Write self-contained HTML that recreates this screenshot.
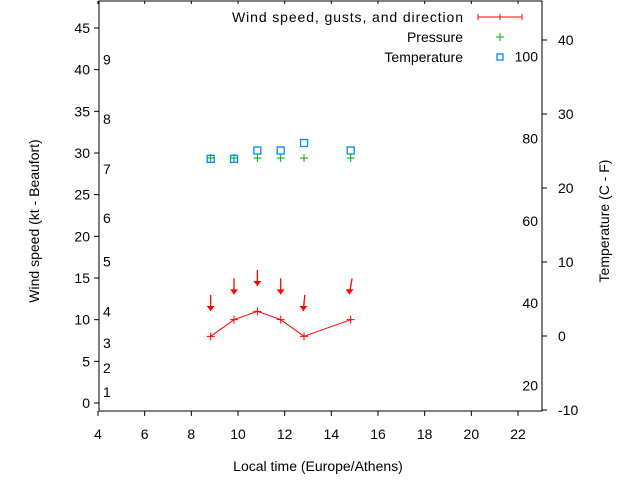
<!DOCTYPE html>
<html><head><meta charset="utf-8"><style>
body{margin:0;background:#fff}
svg text{font-family:"Liberation Sans",sans-serif;font-size:14px;fill:#000}
</style></head><body>
<svg id="c" width="640" height="480" viewBox="0 0 640 480" xmlns="http://www.w3.org/2000/svg">
<g id="g"></g>
</svg>
<script>
const times=[8.83,9.83,10.83,11.83,12.83,14.83];
const windSpeed=[8,10,11,10,8,10];
const gusts=[12,14,15,14,12,14];
const windDir=[0,0,0,0,355,350];
const pressure=[29.4,29.4,29.4,29.4,29.4,29.4];
const temperature=[29.3,29.3,30.3,30.3,31.2,30.3];
const leftTicks=[0,5,10,15,20,25,30,35,40,45];
const rightTicks=[-10,0,10,20,30,40];
const xTicks=[4,6,8,10,12,14,16,18,20,22];
const beaufort=[[1,1.3],[2,4.2],[3,7.2],[4,11],[5,17],[6,22.2],[7,28.1],[8,34.1],[9,41.2]];
const fahrTicks=[20,40,60,80,100];

const L=99,R=542,T=1,B=411;
const X=v=>98+(v-4)*23.333;
const Y=v=>403-v*8.333;
const Y2=v=>336-v*7.4;
const NS='http://www.w3.org/2000/svg';
const g=document.getElementById('g');
function el(t,a,name,txt){const e=document.createElementNS(NS,t);for(const k in a)e.setAttribute(k,a[k]);


if(txt!==undefined)e.textContent=txt;g.appendChild(e);return e;}
el('rect',{x:L,y:T,width:R-L,height:B-T,fill:'none',stroke:'#000','stroke-width':1},'plot-border');
leftTicks.forEach(v=>{el('line',{x1:L-5,x2:L,y1:Y(v),y2:Y(v),stroke:'#000'},'y-tick');
el('text',{x:L-9,y:Y(v)+5,'text-anchor':'end'},'y-tick-label',v);});
rightTicks.forEach(v=>{el('line',{x1:R,x2:R+5,y1:Y2(v),y2:Y2(v),stroke:'#000'},'y2-tick');
el('text',{x:R+16,y:Y2(v)+5,'text-anchor':'start'},'y2-tick-label',v);});
xTicks.forEach(v=>{el('line',{x1:X(v),x2:X(v),y1:B,y2:B+5,stroke:'#000'},'x-tick');
el('line',{x1:X(v),x2:X(v),y1:T,y2:T+3,stroke:'#000'},'x-top-tick');
el('text',{x:X(v),y:B+28,'text-anchor':'middle'},'x-tick-label',v);});
beaufort.forEach(b=>el('text',{x:103,y:Y(b[1])+5},'beaufort-label',b[0]));
fahrTicks.forEach(f=>el('text',{x:538,y:Y2((f-32)*5/9)+5,'text-anchor':'end'},'fahrenheit-label',f));
el('text',{x:318,y:471,'text-anchor':'middle'},'x-axis-title','Local time (Europe/Athens)');
el('text',{x:0,y:0,'text-anchor':'middle',transform:'translate(39,221) rotate(-90)'},'y-axis-title','Wind speed (kt - Beaufort)');
el('text',{x:0,y:0,'text-anchor':'middle',transform:'translate(609,221) rotate(-90)'},'y2-axis-title','Temperature (C - F)');
el('polyline',{points:times.map((t,i)=>X(t)+','+Y(windSpeed[i])).join(' '),fill:'none',stroke:'#f00','stroke-width':1},'wind-speed-line');
times.forEach((t,i)=>{const x=X(t),y=Y(windSpeed[i]);
el('path',{d:`M${x-4},${y}h8M${x},${y-4}v8`,stroke:'#f00','stroke-width':1},'wind-point');
const a=windDir[i]*Math.PI/180,cy=Y(gusts[i]),dx=Math.sin(a)*8,dy=Math.cos(a)*8;
const x1=x-dx,y1=cy-dy,x2=x+dx,y2=cy+dy;
el('line',{x1,y1,x2,y2,stroke:'#f00','stroke-width':1.3},'gust-arrow');
el('polygon',{points:`${x2},${y2} ${x2-4*Math.cos(a)-2*Math.sin(a)},${y2-5} ${x2+4*Math.cos(a)-2*Math.sin(a)},${y2-5}`,fill:'#f00'},'gust-arrow-head');
el('path',{d:`M${X(t)-4},${Y(pressure[i])}h8M${X(t)},${Y(pressure[i])-4}v8`,stroke:'#0a0','stroke-width':1},'pressure-point');
el('rect',{x:X(t)-3.5,y:Y(temperature[i])-3.5,width:7,height:7,fill:'none',stroke:'#08f','stroke-width':1.3},'temperature-point');
});
el('text',{x:463,y:22,'text-anchor':'end','font-size':'15','textLength':231},'legend-wind-label','Wind speed, gusts, and direction');
el('path',{d:'M478,17h44M478,14v6M522,14v6M500,14v6',stroke:'#f00','stroke-width':1},'legend-wind-sample');
el('text',{x:463,y:42,'text-anchor':'end','font-size':'15'},'legend-pressure-label','Pressure');
el('path',{d:'M496,37h8M500,33v8',stroke:'#0a0'},'legend-pressure-sample');
el('text',{x:463,y:62,'text-anchor':'end','font-size':'15'},'legend-temperature-label','Temperature');
el('rect',{x:497,y:54,width:6,height:6,fill:'none',stroke:'#08f','stroke-width':1.3},'legend-temperature-sample');
</script>
</body></html>
